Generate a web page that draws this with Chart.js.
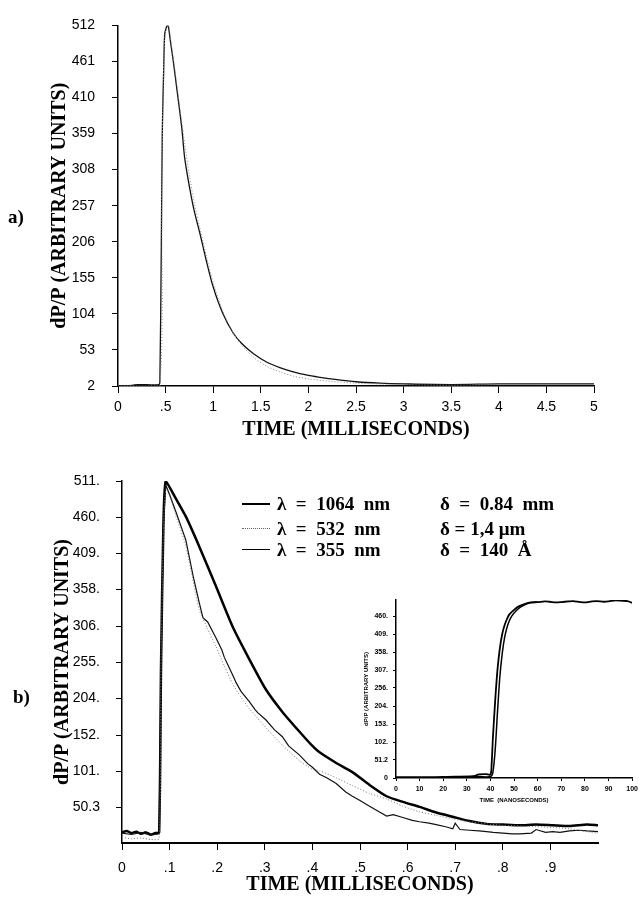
<!DOCTYPE html>
<html>
<head>
<meta charset="utf-8">
<script src="https://cdn.jsdelivr.net/npm/chart.js@4.4.1/dist/chart.umd.min.js"></script>
<style>
  body { margin: 0; background: #fff; }
  #page { position: relative; width: 642px; height: 897px; overflow: hidden; background: #fff; }
  canvas { position: absolute; }
  .lbl { position: absolute; font: bold 19px "Liberation Serif", serif; color: #000; white-space: pre; line-height: 22px; }
  .swatch { position: absolute; width: 28px; height: 0; }
</style>
</head>
<body>
<div id="page">
  <canvas id="chartA" width="642" height="450" style="left:0;top:0"></canvas>
  <canvas id="chartB" width="642" height="447" style="left:0;top:450px"></canvas>
  <canvas id="inset" width="292" height="220" style="left:350px;top:590px"></canvas>

  <div class="lbl" style="left:8px;top:206px">a)</div>
  <div class="lbl" style="left:13px;top:686px">b)</div>

  <div class="swatch" style="left:242px;top:503px;border-top:2.5px solid #000"></div>
  <div class="swatch" style="left:242px;top:528px;border-top:1px dotted #666"></div>
  <div class="swatch" style="left:242px;top:549px;border-top:1.2px solid #000"></div>
  <div class="lbl" style="left:277px;top:493px">λ  =  1064  nm</div>
  <div class="lbl" style="left:277px;top:518px">λ  =  532  nm</div>
  <div class="lbl" style="left:277px;top:539px">λ  =  355  nm</div>
  <div class="lbl" style="left:440px;top:493px">δ  =  0.84  mm</div>
  <div class="lbl" style="left:440px;top:518px">δ = 1,4 μm</div>
  <div class="lbl" style="left:440px;top:539px">δ  =  140  Å</div>
</div>

<script>
// ---- panel a) : dP/P vs time (ms)
const xTicksA = [0, 0.5, 1, 1.5, 2, 2.5, 3, 3.5, 4, 4.5, 5]
const xLabelsA = ['0', '.5', '1', '1.5', '2', '2.5', '3', '3.5', '4', '4.5', '5']
const yTicksA = [2, 53, 104, 155, 206, 257, 308, 359, 410, 461, 512]

const timeA1 = [0, 0.15, 0.2, 0.3, 0.43, 0.44, 0.455, 0.465, 0.48, 0.49, 0.505, 0.52, 0.53, 0.55, 0.58, 0.62, 0.67, 0.70, 0.75, 0.8, 0.86, 0.93, 1.0, 1.1, 1.21, 1.3, 1.42, 1.56, 1.7, 1.84, 2.0, 2.09, 2.3, 2.5, 2.75, 3.0, 3.5, 4.0, 4.5, 5.0]
const signalA1 = [2, 3, 4, 4, 4, 10, 200, 358, 450, 499, 508, 512, 510, 490, 462, 420, 367, 325, 284, 250, 218, 178, 142, 105, 77, 62, 48, 36, 28, 22, 17, 15, 11, 8, 6, 5, 4, 5, 5, 5]

const timeA2 = [0, 0.3, 0.44, 0.46, 0.48, 0.5, 0.53, 0.56, 0.6, 0.65, 0.7, 0.75, 0.8, 0.86, 0.93, 1.0, 1.1, 1.2, 1.3, 1.42, 1.56, 1.7, 1.84, 2.0, 2.2, 2.5, 3, 3.5, 4, 4.5, 5]
const signalA2 = [2, 2, 2, 300, 460, 505, 512, 485, 447, 395, 345, 300, 262, 225, 185, 148, 108, 80, 60, 43, 30, 22, 16, 12, 9, 6, 4, 3, 4, 4, 4]

// ---- panel b)
const xTicksB = [0, 0.1, 0.2, 0.3, 0.4, 0.5, 0.6, 0.7, 0.8, 0.9]
const xLabelsB = ['0', '.1', '.2', '.3', '.4', '.5', '.6', '.7', '.8', '.9']
const yLabelsB = ['50.3', '101.', '152.', '204.', '255.', '306.', '358.', '409.', '460.', '511.']

const time1064 = [0, 0.01, 0.02, 0.03, 0.04, 0.05, 0.06, 0.07, 0.078, 0.082, 0.087, 0.092, 0.11, 0.134, 0.162, 0.197, 0.232, 0.267, 0.302, 0.337, 0.373, 0.4, 0.415, 0.45, 0.484, 0.52, 0.556, 0.59, 0.625, 0.66, 0.695, 0.73, 0.766, 0.8, 0.836, 0.87, 0.905, 0.94, 0.977, 1.0]
const sig1064 = [15, 17, 14, 16, 13, 15, 12, 14, 15, 250, 450, 511, 490, 461, 419, 363, 306, 260, 217, 185, 157, 137, 128, 113, 100, 82, 66, 58, 51, 43, 37, 31, 27, 26, 25, 26, 25, 24, 26, 25]

const time532 = [0, 0.02, 0.04, 0.06, 0.078, 0.082, 0.087, 0.092, 0.1, 0.113, 0.134, 0.162, 0.18, 0.197, 0.215, 0.232, 0.25, 0.267, 0.285, 0.302, 0.337, 0.373, 0.4, 0.415, 0.45, 0.484, 0.52, 0.556, 0.59, 0.625, 0.66, 0.695, 0.73, 0.766, 0.8, 0.836, 0.87, 0.905, 0.94, 0.977, 1.0]
const sig532 = [8, 6, 7, 5, 6, 250, 440, 500, 490, 462, 420, 330, 302, 278, 250, 225, 206, 190, 176, 163, 138, 116, 104, 102, 92, 81, 70, 62, 52, 44, 39, 34, 30, 27, 25, 24, 23, 22, 20, 16, 14]

const time355 = [0, 0.02, 0.04, 0.06, 0.078, 0.082, 0.087, 0.092, 0.1, 0.113, 0.134, 0.15, 0.162, 0.17, 0.18, 0.197, 0.21, 0.215, 0.232, 0.24, 0.25, 0.267, 0.28, 0.285, 0.302, 0.32, 0.337, 0.35, 0.373, 0.39, 0.4, 0.415, 0.43, 0.45, 0.47, 0.484, 0.5, 0.52, 0.54, 0.556, 0.57, 0.59, 0.61, 0.625, 0.645, 0.66, 0.68, 0.695, 0.7, 0.71, 0.73, 0.75, 0.766, 0.78, 0.8, 0.82, 0.836, 0.86, 0.87, 0.89, 0.905, 0.92, 0.94, 0.96, 0.977, 1.0]
const sig355 = [14, 12, 15, 11, 13, 250, 450, 505, 492, 468, 428, 375, 340, 318, 312, 290, 272, 262, 238, 226, 214, 200, 188, 184, 174, 160, 150, 137, 124, 112, 107, 97, 92, 84, 72, 66, 60, 52, 44, 38, 40, 36, 32, 30, 28, 26, 23, 20, 28, 19, 18, 17, 16, 15, 14, 13, 13, 14, 19, 15, 16, 15, 17, 18, 17, 16]

// ---- inset (nanoseconds)
const xTicksC = [0, 10, 20, 30, 40, 50, 60, 70, 80, 90, 100]
const yTicksC = [0, 51.2, 102, 153, 204, 256, 307, 358, 409, 460]
const yLabelsC = ['0', '51.2', '102.', '153.', '204.', '256.', '307.', '358.', '409.', '460.']

const timeC1 = [0, 5, 10, 15, 20, 25, 30, 33, 35, 38, 40, 40.5, 41, 42, 43, 44, 45, 46, 47, 48, 50, 52, 55, 57, 60, 63, 65, 68, 70, 73, 75, 78, 80, 83, 85, 88, 90, 93, 95, 98, 100]
const sigC1 = [2, 2, 2, 2, 3, 4, 4, 5, 10, 11, 10, 40, 110, 220, 310, 370, 410, 435, 452, 465, 478, 488, 496, 499, 500, 502, 501, 499, 500, 502, 503, 500, 499, 502, 503, 501, 502, 505, 504, 503, 498]
const timeC2 = [0, 10, 20, 25, 30, 35, 40, 41, 42, 43, 44, 45, 46, 47, 48, 49, 51, 53, 55, 57, 60]
const sigC2 = [2, 2, 2, 3, 4, 4, 4, 15, 80, 190, 290, 355, 400, 428, 447, 460, 476, 487, 494, 498, 500]

function pts(t, v) {
    return t.map((x, i) => ({ x: x, y: v[i] }))
}

const tickFont = { family: '"Liberation Sans", sans-serif', size: 14 }
const titleFont = { family: '"Liberation Serif", serif', size: 20, weight: 'bold' }

new Chart(document.getElementById('chartA'), {
    type: 'line',
    data: {
        datasets: [
            { data: pts(timeA2, signalA2), borderColor: '#8a8a8a', borderWidth: 1, borderDash: [1, 2], pointRadius: 0, tension: 0.3 },
            { data: pts(timeA1, signalA1), borderColor: '#111', borderWidth: 1.3, pointRadius: 0, tension: 0.3 }
        ]
    },
    options: {
        responsive: false, animation: false,
        layout: { padding: { top: 24, right: 48, left: 0, bottom: 0 } },
        plugins: { legend: { display: false }, tooltip: { enabled: false } },
        scales: {
            x: {
                type: 'linear', min: 0, max: 5,
                afterBuildTicks: s => { s.ticks = xTicksA.map(v => ({ value: v })) },
                afterFit: s => { s.height = 64 },
                ticks: { callback: (v) => xLabelsA[xTicksA.indexOf(v)], font: tickFont, color: '#000', padding: 6, maxRotation: 0, autoSkip: false },
                grid: { drawOnChartArea: false, tickLength: 7, color: '#000' },
                border: { color: '#000', width: 1.5 },
                title: { display: true, text: 'TIME (MILLISECONDS)', font: titleFont, color: '#000', padding: { top: 0, bottom: 8 } }
            },
            y: {
                type: 'linear', min: 2, max: 512,
                afterBuildTicks: s => { s.ticks = yTicksA.map(v => ({ value: v })) },
                afterFit: s => { s.width = 118 },
                ticks: { font: tickFont, color: '#000', padding: 17, autoSkip: false },
                grid: { drawOnChartArea: false, tickLength: 6, color: '#000' },
                border: { color: '#000', width: 1.5 },
                title: { display: true, text: 'dP/P (ARBITRARY UNITS)', font: titleFont, color: '#000', padding: { top: 48, bottom: 0 } }
            }
        }
    }
});

new Chart(document.getElementById('chartB'), {
    type: 'line',
    data: {
        datasets: [
            { data: pts(time532, sig532), borderColor: '#777', borderWidth: 1, borderDash: [1, 2], pointRadius: 0, tension: 0.2 },
            { data: pts(time355, sig355), borderColor: '#111', borderWidth: 1.2, pointRadius: 0, tension: 0 },
            { data: pts(time1064, sig1064), borderColor: '#000', borderWidth: 2.5, pointRadius: 0, tension: 0.2 }
        ]
    },
    options: {
        responsive: false, animation: false,
        layout: { padding: { top: 31, right: 44, left: 0, bottom: 0 } },
        plugins: { legend: { display: false }, tooltip: { enabled: false } },
        scales: {
            x: {
                type: 'linear', min: 0, max: 1.0,
                afterBuildTicks: s => { s.ticks = xTicksB.map(v => ({ value: v })) },
                afterFit: s => { s.height = 54 },
                ticks: { callback: (v) => xLabelsB[xTicksB.indexOf(v)], font: tickFont, color: '#000', padding: 10, maxRotation: 0, autoSkip: false },
                grid: { drawOnChartArea: false, tickLength: 7, color: '#000' },
                border: { color: '#000', width: 2 },
                title: { display: true, text: 'TIME (MILLISECONDS)', font: titleFont, color: '#000', padding: { top: 0, bottom: 0 } }
            },
            y: {
                type: 'linear', min: 0, max: 511,
                afterBuildTicks: s => { s.ticks = yLabelsB.map(l => ({ value: parseFloat(l) })) },
                afterFit: s => { s.width = 122 },
                ticks: { callback: (v, i) => yLabelsB[i], font: tickFont, color: '#000', padding: 16, autoSkip: false },
                grid: { drawOnChartArea: false, tickLength: 6, color: '#000' },
                border: { color: '#000', width: 1.5 },
                title: { display: true, text: 'dP/P (ARBITRARY UNITS)', font: titleFont, color: '#000', padding: { top: 51, bottom: 0 } }
            }
        }
    }
});

const tinyFont = { family: '"Liberation Sans", sans-serif', size: 7, weight: 'bold' }
const tinyTitle = { family: '"Liberation Sans", sans-serif', size: 6, weight: 'bold' }

new Chart(document.getElementById('inset'), {
    type: 'line',
    data: {
        datasets: [
            { data: pts(timeC2, sigC2), borderColor: '#000', borderWidth: 1.5, pointRadius: 0, tension: 0.3 },
            { data: pts(timeC1, sigC1), borderColor: '#000', borderWidth: 1.8, pointRadius: 0, tension: 0.3 }
        ]
    },
    options: {
        responsive: false, animation: false,
        layout: { padding: { top: 10, right: 9, left: 0, bottom: 0 } },
        plugins: { legend: { display: false }, tooltip: { enabled: false } },
        scales: {
            x: {
                type: 'linear', min: 0, max: 100,
                afterBuildTicks: s => { s.ticks = xTicksC.map(v => ({ value: v })) },
                afterFit: s => { s.height = 32 },
                ticks: { font: tinyFont, color: '#000', padding: 4, maxRotation: 0, autoSkip: false },
                grid: { drawOnChartArea: false, tickLength: 3, color: '#000' },
                border: { color: '#000', width: 1.5 },
                title: { display: true, text: 'TIME  (NANOSECONDS)', font: tinyTitle, color: '#000', padding: { top: 0, bottom: 6 } }
            },
            y: {
                type: 'linear', min: 0, max: 506,
                afterBuildTicks: s => { s.ticks = yTicksC.map(v => ({ value: v })) },
                afterFit: s => { s.width = 46 },
                ticks: { callback: (v, i) => yLabelsC[i], font: tinyFont, color: '#000', padding: 5, autoSkip: false },
                grid: { drawOnChartArea: false, tickLength: 3, color: '#000' },
                border: { color: '#000', width: 1.5 },
                title: { display: true, text: 'dP/P (ARBITRARY UNITS)', font: tinyTitle, color: '#000', padding: { top: 13, bottom: 0 } }
            }
        }
    }
});
</script>
</body>
</html>
